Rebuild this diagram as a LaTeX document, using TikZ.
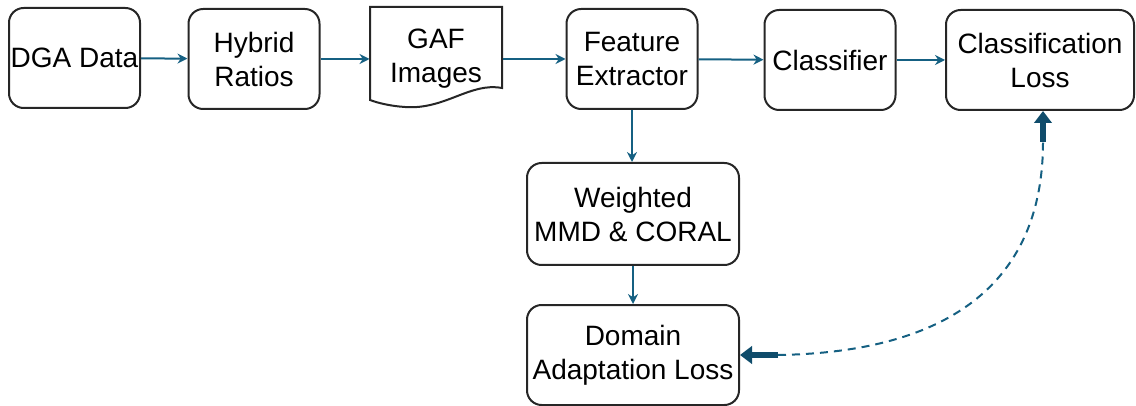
\documentclass[tikz,border=0pt]{standalone}
\usepackage{fontspec}
\setmainfont{Liberation Sans}
\usetikzlibrary{arrows.meta}

\definecolor{flowblue}{HTML}{156082}
\definecolor{headblue}{HTML}{0F4C6B}

\tikzset{
  stepbox/.style={draw=black!85, line width=1.5pt, rounded corners=11pt, align=center,
    inner sep=0pt, minimum width=98.25pt, minimum height=75pt,
    font=\fontsize{21}{25.5}\selectfont},
  flow/.style={draw=flowblue, line width=1.5pt, -{Stealth[length=7.5pt,width=7.5pt]}},
  fatarrow/.style={draw=headblue, line width=4pt, -{Triangle[length=9pt,width=13pt]}},
}

\begin{document}
\begin{tikzpicture}[x=0.75pt,y=-0.75pt]
		\useasboundingbox (0,0) rectangle (1136,406);
		% top row
		\node[stepbox] (dga) at (74.5, 58) {DGA Data};
		\node[stepbox] (hyb) at (254, 59) {Hybrid\\Ratios};
		\node[stepbox, draw=none, rounded corners=0pt] (gaf) at (436, 59) {GAF\\Images};
		\draw[black!85, line width=1.5pt] (370, 100) -- (370, 7) -- (502, 7) -- (502, 88)
			.. controls (470, 82) and (445, 110) .. (405, 107)
			.. controls (390, 106) and (378, 103) .. cycle;
		\node[stepbox] (fex) at (632, 59) {Feature\\Extractor};
		\node[stepbox] (cls) at (830, 60) {Classifier};
		\node[stepbox, minimum width=141pt] (cl) at (1040, 60) {Classification\\Loss};
		% lower column
		\node[stepbox, minimum width=159pt, minimum height=76.5pt] (mmd) at (633, 214) {Weighted\\MMD \& CORAL};
		\node[stepbox, minimum width=159pt] (dal) at (633, 355) {Domain\\Adaptation Loss};
		% connectors
		\draw[flow] (dga) -- (hyb);
		\draw[flow] (hyb) -- (gaf);
		\draw[flow] (gaf) -- (fex);
		\draw[flow] (fex) -- (cls);
		\draw[flow] (cls) -- (cl);
		\draw[flow] (fex.south) -- (fex.south |- mmd.north);
		\draw[flow] (mmd) -- (dal);
		% feedback between losses
		\coordinate (dalfoot) at (778, 355);
		\coordinate (clfoot) at (1043, 142);
		\draw[flowblue, line width=1.5pt, dash pattern=on 6pt off 4.5pt]
			(dalfoot) .. controls (965, 352) and (1043, 270) .. (clfoot);
		\draw[fatarrow] (dalfoot) -- (dal.east);
		\draw[fatarrow] (clfoot) -- (clfoot |- cl.south);
	\end{tikzpicture}
\end{document}
